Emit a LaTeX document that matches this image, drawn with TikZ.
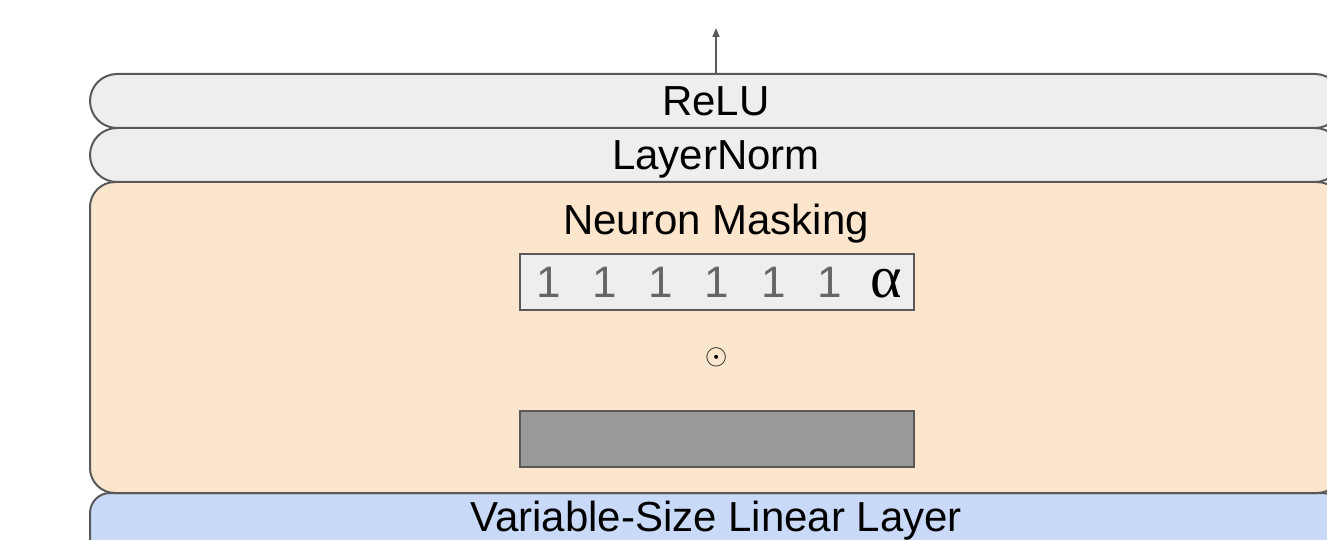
\documentclass[tikz,border=0pt]{standalone}
\usepackage{fontspec}
\setmainfont{Liberation Sans}
\newfontfamily\alphafont{Liberation Serif}
\usetikzlibrary{arrows.meta}
\definecolor{edgegray}{HTML}{595959}
\definecolor{lightgray}{HTML}{EEEEEE}
\definecolor{maskorange}{HTML}{FCE5CD}
\definecolor{linblue}{HTML}{C9DAF8}
\definecolor{bargray}{HTML}{999999}
\definecolor{digitgray}{HTML}{666666}
\begin{document}
\begin{tikzpicture}[x=1pt,y=-1pt,
  slab/.style={draw=edgegray, line width=2pt, rounded corners=#1, minimum width=1252pt, inner sep=0pt},
  bar/.style={draw=edgegray, line width=1.5pt, minimum width=394pt, minimum height=56pt, inner sep=0pt},
  digit/.style={text=digitgray, font=\fontsize{44}{44}\selectfont, inner sep=0pt, anchor=base},
  lbl/.style={font=\fontsize{42}{42}\selectfont, inner sep=0pt, anchor=base}]
\useasboundingbox (0,0) rectangle (1327,540);
\clip (0,0) rectangle (1327,540);
\node[slab=20pt, fill=linblue, minimum height=87pt] (lin) at (716,536.5) {};
\node[lbl] (linlbl) at (716,531) {Variable-Size Linear Layer};
\node[slab=25pt, fill=maskorange, minimum height=311pt] (mask) at (716,337.5) {};
\node[lbl] (masklbl) at (716,234) {Neuron Masking};
\node[slab=27pt, fill=lightgray, minimum height=54pt] (ln) at (716,155) {};
\node[lbl] (lnlbl) at (716,170) {LayerNorm};
\node[slab=27pt, fill=lightgray, minimum height=54pt] (relu) at (716,101) {};
\node[lbl] (relulbl) at (716,116) {ReLU};
\node[bar, fill=lightgray] (vec) at (717,282) {};
\foreach \x/\n in {549/a,605/b,661/c,717/d,774/e,830/f}
  \node[digit] (d\n) at (\x,297) {1};
\node[inner sep=0pt, anchor=base, font=\alphafont\fontsize{60}{60}\selectfont] (alpha) at (886,297) {α};
\node[inner sep=0pt, scale=1.15, font=\fontsize{24}{24}\selectfont] (odot) at (717,357) {$\odot$};
\node[bar, fill=bargray] (hid) at (717,439) {};
\coordinate (out) at (716,28);
\draw[edgegray, line width=1.5pt, -{Triangle[length=9pt,width=7pt]}] (relu.north) -- (out);
\end{tikzpicture}
\end{document}
